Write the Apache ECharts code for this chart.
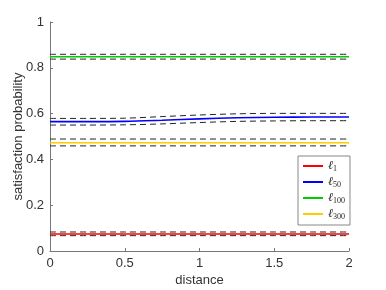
<!DOCTYPE html>
<html><head><meta charset="utf-8">
<script src="https://cdn.jsdelivr.net/npm/echarts@6/dist/echarts.min.js"></script>
<style>html,body{margin:0;padding:0;background:#fff}#c{width:386px;height:290px}</style>
</head><body><div id="c"></div>
<script>
const distance = [0, 0.25, 0.5, 0.75, 1, 1.25, 1.5, 1.75, 2];
const l1 = [0.074,0.074,0.074,0.074,0.074,0.074,0.074,0.074,0.074];
const l1Up = [0.083,0.083,0.083,0.083,0.083,0.083,0.083,0.083,0.083];
const l1Lo = [0.067,0.067,0.067,0.067,0.067,0.067,0.067,0.067,0.067];
const l50 = [0.565,0.565,0.566,0.571,0.577,0.582,0.584,0.585,0.585];
const l50Up = [0.579,0.579,0.580,0.587,0.594,0.599,0.601,0.601,0.601];
const l50Lo = [0.550,0.550,0.551,0.555,0.561,0.566,0.568,0.569,0.569];
const l100 = [0.848,0.848,0.848,0.848,0.848,0.848,0.848,0.848,0.848];
const l100Up = [0.859,0.859,0.859,0.859,0.859,0.859,0.859,0.859,0.859];
const l100Lo = [0.838,0.838,0.838,0.838,0.838,0.838,0.838,0.838,0.838];
const l300 = [0.473,0.473,0.473,0.473,0.473,0.473,0.473,0.473,0.473];
const l300Up = [0.489,0.489,0.489,0.489,0.489,0.489,0.489,0.489,0.489];
const l300Lo = [0.459,0.459,0.459,0.459,0.459,0.459,0.459,0.459,0.459];
const names = ['ℓ1','ℓ50','ℓ100','ℓ300'];
const subs = {'ℓ1':'1','ℓ50':'50','ℓ100':'100','ℓ300':'300'};
const colors = ['#ff0000','#0000ff','#00cc00','#ffcc00'];

const pair = (arr) => distance.map((d,i)=>[d,arr[i]]);
const dashed = (arr, id) => ({name:id, type:'line', data:pair(arr), symbol:'none', silent:true, smooth:0.3,
  lineStyle:{color:'#222', width:1, type:[6,4]}, z:3});
const solid = (arr, i) => ({name:names[i], type:'line', data:pair(arr), symbol:'none', smooth:0.3,
  lineStyle:{color:colors[i], width:1.6}, itemStyle:{color:colors[i]}, z:2});

const chart = echarts.init(document.getElementById('c'));
chart.setOption({
  animation:false,
  textStyle:{fontFamily:'Liberation Sans, Arial, sans-serif'},
  grid:{left:50, right:37, top:22, bottom:39, containLabel:false, outerBoundsMode:'none'},
  legend:{
    data:names, orient:'vertical', left:298, top:156,
    itemWidth:20, itemHeight:2, itemGap:3, icon:'rect',
    padding:[4,5,4,5], borderColor:'#888', borderWidth:1, backgroundColor:'#fff',
    formatter:(n)=>'{i|ℓ}{s|'+subs[n]+'}',
    textStyle:{rich:{
      i:{fontFamily:'DejaVu Serif, serif', fontStyle:'italic', fontSize:12, color:'#222'},
      s:{fontFamily:'Liberation Serif, serif', fontSize:8, color:'#222', verticalAlign:'bottom', padding:[6,0,0,0]}
    }}
  },
  xAxis:{type:'value', min:0, max:2, interval:0.5, name:'distance', nameLocation:'middle', nameGap:23, nameMoveOverlap:false,
    nameTextStyle:{fontSize:13, color:'#333'},
    axisLine:{lineStyle:{color:'#777'}}, axisTick:{inside:true, length:3, lineStyle:{color:'#777'}},
    axisLabel:{fontSize:13, color:'#333', margin:6}, splitLine:{show:false}},
  yAxis:{type:'value', min:0, max:1, interval:0.2, name:'satisfaction probability', nameLocation:'middle', nameGap:25, nameMoveOverlap:false,
    nameTextStyle:{fontSize:13, color:'#333'},
    axisLine:{show:true, lineStyle:{color:'#777'}}, axisTick:{show:true, inside:true, length:3, lineStyle:{color:'#777'}},
    axisLabel:{fontSize:13, color:'#333', margin:6}, splitLine:{show:false}},
  series:[
    solid(l1,0), solid(l50,1), solid(l100,2), solid(l300,3),
    dashed(l1Up,'a'), dashed(l1Lo,'b'), dashed(l50Up,'c'), dashed(l50Lo,'d'),
    dashed(l100Up,'e'), dashed(l100Lo,'f'), dashed(l300Up,'g'), dashed(l300Lo,'h')
  ]
});
</script></body></html>
